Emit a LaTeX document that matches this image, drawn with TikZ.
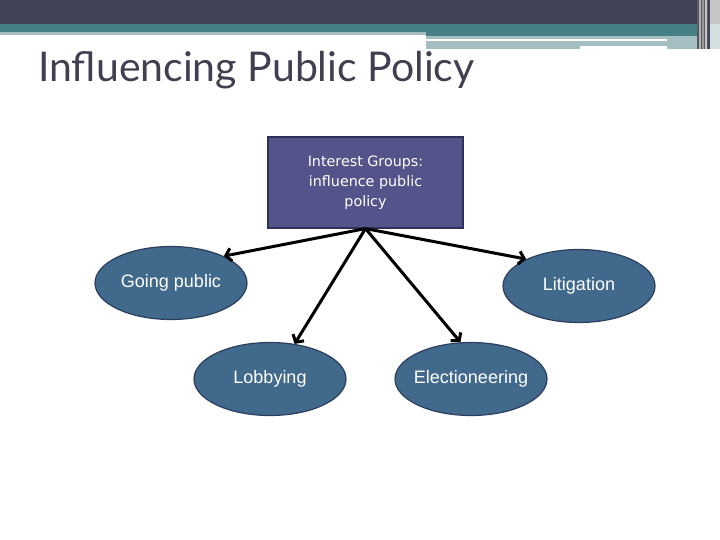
\documentclass[tikz,border=0pt]{standalone}
\usepackage{fontspec}
\setmainfont{Liberation Sans}
\newfontfamily\titlefont{Lato}
\newfontfamily\boxfont{DejaVu Sans}
\usetikzlibrary{shapes.geometric,arrows.meta}
\definecolor{bandDark}{HTML}{424356}
\definecolor{bandTeal}{HTML}{467F86}
\definecolor{bandLight}{HTML}{A4BEC2}
\definecolor{titleGrey}{HTML}{404050}
\definecolor{topicFill}{HTML}{54548A}
\definecolor{topicLine}{HTML}{2E3158}
\definecolor{tacticFill}{HTML}{41698C}
\definecolor{tacticLine}{HTML}{2C3E5F}
\tikzset{
        x=1pt, y=-1pt,
        topic/.style={rectangle, draw=topicLine, line width=1.2pt, fill=topicFill, text=white,
          minimum width=195pt, minimum height=91pt, align=center, font=\boxfont\fontsize{14.3}{20}\selectfont},
        tactic/.style={ellipse, draw=tacticLine, line width=1.2pt, fill=tacticFill, text=white,
          minimum width=152pt, minimum height=73pt, inner sep=0pt, inner xsep=-8pt, font=\fontsize{18}{21}\selectfont},
        link/.style={draw=black, line width=3pt, -{Straight Barb[length=5.5pt,width=13pt]}},
        headtitle/.style={anchor=base west, text=titleGrey, inner sep=0pt, font=\titlefont\fontsize{41}{48}\selectfont}
          }
\begin{document}
\begin{tikzpicture}
        \useasboundingbox (0,0) rectangle (720,540);
        % header bands
        \fill[bandDark] (0,0) rectangle (720,24);
        \fill[bandTeal] (0,24) rectangle (720,32);
        \fill[bandTeal] (426,32) rectangle (707,36);
        \fill[bandLight] (0,32) rectangle (426,35);
        \fill[bandLight] (426,36) rectangle (707,49);
        \fill[white] (426,39) rectangle (667,41);
        \fill[white] (580,46) rectangle (667,49);
        \fill[black!30!bandDark!80!white] (697,0) rectangle (710,49);
        \foreach \xx/\cc in {699/gray!60, 702/gray!80, 705/gray!45, 708/bandDark}
          \fill[\cc] (\xx,0) rectangle ++(1.5,49);
        \fill[gray!45] (710,0) rectangle (720,24);
        \fill[bandLight!50!white] (710,24) rectangle (720,49);
        \node[headtitle] (title) at (38,82) {Influencing Public Policy};
        % interest groups and tactics
        \node[topic] (ig) at (365.5,182.5) {Interest Groups:\\influence public\\policy};
        \node[tactic] (gp) at (171,283) {Going public};
        \node[tactic] (lit) at (579,286) {Litigation};
        \node[tactic] (lob) at (270,379) {Lobbying};
        \node[tactic] (elec) at (471,379) {Electioneering};
        \draw[link] (ig.south) -- (gp.27);
        \draw[link] (ig.south) -- (lit.153);
        \draw[link] (ig.south) -- (lob.55);
        \draw[link] (ig.south) -- (elec.106);
\end{tikzpicture}
\end{document}
